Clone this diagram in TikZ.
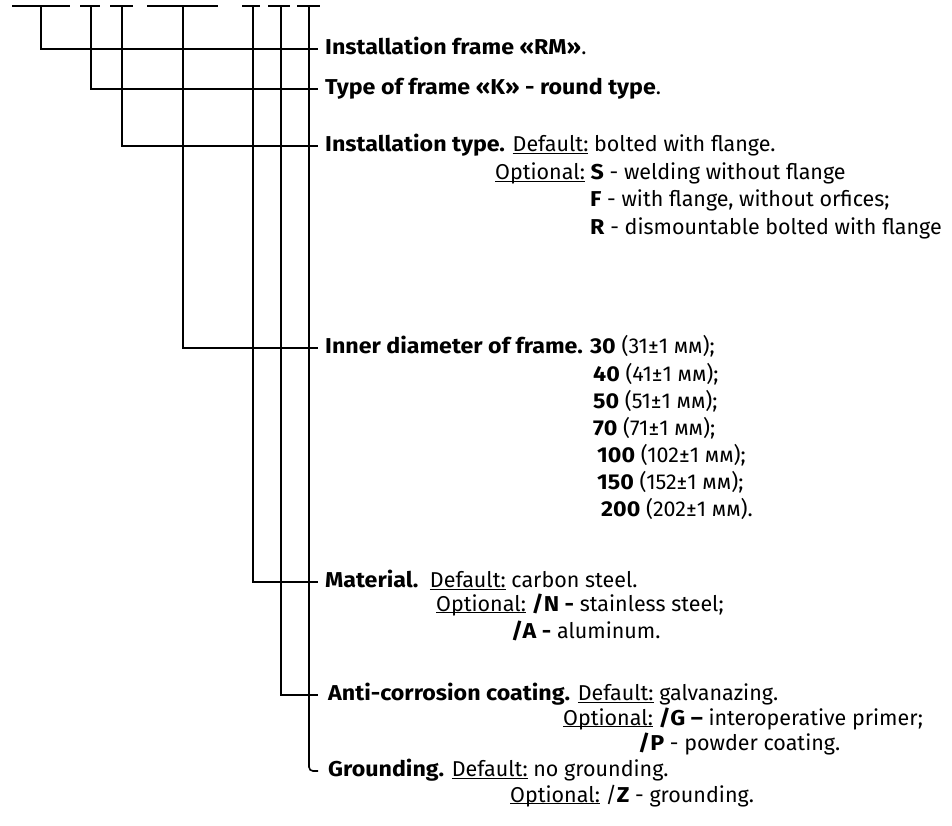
\documentclass[tikz,border=0pt]{standalone}
\usepackage{fontspec}
\setmainfont{Fira Sans}[BoldFeatures={FakeStretch=1.08}]
\newcommand\ulbase[1]{\underline{\smash{#1}}}

\begin{document}
\begin{tikzpicture}[x=1pt,y=-1pt]
\tikzset{
  codebar/.style={line width=1.6pt},
  keyline/.style={line width=1.6pt},
  heading/.style={anchor=west,inner xsep=7pt,inner ysep=0pt,text height=15.5pt,text depth=4.5pt,font=\fontsize{21.5}{26}\selectfont},
  subline/.style={anchor=base west,inner sep=0pt,font=\fontsize{21.5}{26}\selectfont}
}
\useasboundingbox (0,0) rectangle (952,826);
% code blanks on top
\draw[codebar] (12,6) -- (70,6);
\draw[codebar] (80,6) -- (100,6);
\draw[codebar] (110,6) -- (133,6);
\draw[codebar] (147,6) -- (218,6);
\draw[codebar] (242,6) -- (260,6);
\draw[codebar] (268,6) -- (290,6);
\draw[codebar] (297,6) -- (320,6);
\coordinate (c_frame) at (41,6);
\coordinate (c_type) at (91,6);
\coordinate (c_inst) at (122,6);
\coordinate (c_diam) at (183,6);
\coordinate (c_mat) at (253,6);
\coordinate (c_coat) at (281,6);
\coordinate (c_ground) at (309,6);
% headings
\node[heading] (n_frame) at (318,49) {\textbf{Installation frame «RM»}.};
\node[heading] (n_type) at (318,89) {\textbf{Type of frame «K» - round type}.};
\node[heading] (n_inst) at (318,146) {\textbf{Installation type.} \ulbase{Default:} bolted with flange.};
\node[heading] (n_diam) at (318,348) {\textbf{Inner diameter of frame. 30} (31±1 мм);};
\node[heading] (n_mat) at (318,582) {\textbf{Material.}\ \ \ulbase{Default:} carbon steel.};
\node[heading,inner xsep=10pt] (n_coat) at (318,695) {\textbf{Anti-corrosion coating.} \ulbase{Default:} galvanazing.};
\node[heading,inner xsep=10pt] (n_ground) at (318,771) {\textbf{Grounding.} \ulbase{Default:} no grounding.};
% continuation lines
\node[subline] (n_inst_s) at (495,180) {\ulbase{Optional:} \textbf{S} - welding without flange};
\node[subline] (n_inst_f) at (590,207) {\textbf{F} - with flange, without orfices;};
\node[subline] (n_inst_r) at (590,234) {\textbf{R} - dismountable bolted with flange};
\node[subline] (n_diam_40) at (593,381) {\textbf{40} (41±1 мм);};
\node[subline] (n_diam_50) at (593,408) {\textbf{50} (51±1 мм);};
\node[subline] (n_diam_70) at (593,435) {\textbf{70} (71±1 мм);};
\node[subline] (n_diam_100) at (597,462) {\textbf{100} (102±1 мм);};
\node[subline] (n_diam_150) at (597,489) {\textbf{150} (152±1 мм);};
\node[subline] (n_diam_200) at (601,516) {\textbf{200} (202±1 мм).};
\node[subline] (n_mat_n) at (436,611) {\ulbase{Optional:} \textbf{/N -} stainless steel;};
\node[subline] (n_mat_a) at (511,638) {\textbf{/A -} aluminum.};
\node[subline] (n_coat_g) at (563,725) {\ulbase{Optional:} \textbf{/G --} interoperative primer;};
\node[subline] (n_coat_p) at (638,750) {\textbf{/P} - powder coating.};
\node[subline] (n_ground_z) at (510,802) {\ulbase{Optional:} /\textbf{Z} - grounding.};
% leader lines
\draw[keyline] (c_frame) |- (n_frame.west);
\draw[keyline] (c_type) |- (n_type.west);
\draw[keyline] (c_inst) |- (n_inst.west);
\draw[keyline] (c_diam) |- (n_diam.west);
\draw[keyline] (c_mat) |- (n_mat.west);
\draw[keyline] (c_coat) |- (n_coat.west);
\draw[keyline,rounded corners=4pt] (c_ground) |- (n_ground.west);
\end{tikzpicture}
\end{document}
